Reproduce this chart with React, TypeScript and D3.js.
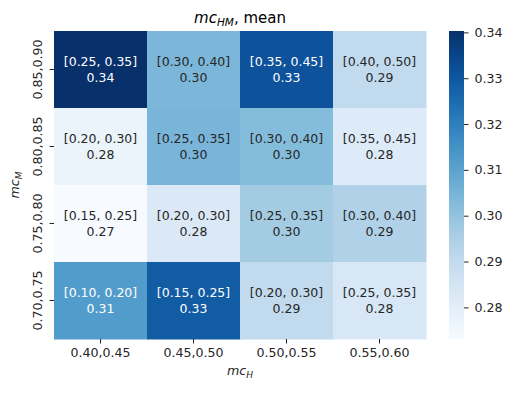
import React, { useEffect, useRef } from "react";
import * as d3 from "d3";

// rows top -> bottom (mc_M), columns left -> right (mc_H)
const rowLabels = ["0.85,0.90", "0.80,0.85", "0.75,0.80", "0.70,0.75"];
const colLabels = ["0.40,0.45", "0.45,0.50", "0.50,0.55", "0.55,0.60"];

// interval shown in each cell
const intervals = [
  ["[0.25, 0.35]", "[0.30, 0.40]", "[0.35, 0.45]", "[0.40, 0.50]"],
  ["[0.20, 0.30]", "[0.25, 0.35]", "[0.30, 0.40]", "[0.35, 0.45]"],
  ["[0.15, 0.25]", "[0.20, 0.30]", "[0.25, 0.35]", "[0.30, 0.40]"],
  ["[0.10, 0.20]", "[0.15, 0.25]", "[0.20, 0.30]", "[0.25, 0.35]"],
];

// mean mc_HM per cell
const means = [
  [0.3403, 0.304, 0.3315, 0.2905],
  [0.277, 0.3045, 0.3025, 0.282],
  [0.2731, 0.2825, 0.297, 0.2945],
  [0.312, 0.329, 0.2905, 0.2835],
];

const cbarTicks = [0.28, 0.29, 0.3, 0.31, 0.32, 0.33, 0.34];

const W = 514;
const H = 393;
const FONT = "DejaVu Sans, sans-serif";

const luminance = (c: string) => {
  const rgb = d3.rgb(c);
  const lin = (v: number) => {
    const s = v / 255;
    return s <= 0.03928 ? s / 12.92 : Math.pow((s + 0.055) / 1.055, 2.4);
  };
  return 0.2126 * lin(rgb.r) + 0.7152 * lin(rgb.g) + 0.0722 * lin(rgb.b);
};

const App = () => {
  const svgRef = useRef<SVGSVGElement>(null);

  useEffect(() => {
    if (!svgRef.current) return;
    const svg = d3.select(svgRef.current);
    svg.selectAll("*").remove();

    const left = 54, right = 426, top = 31, bottom = 339;
    const flat = means.flat();
    const vmin = d3.min(flat) as number;
    const vmax = d3.max(flat) as number;
    const color = d3.scaleSequential(d3.interpolateBlues).domain([vmin, vmax]);

    const x = d3.scaleBand<string>().domain(colLabels).range([left, right]);
    const y = d3.scaleBand<string>().domain(rowLabels).range([top, bottom]);

    // ── Cells ──────────────────────────────────────────
    const g = svg.append("g");
    rowLabels.forEach((r, i) => {
      colLabels.forEach((c, j) => {
        const v = means[i][j];
        const fill = color(v);
        g.append("rect")
          .attr("x", x(c)!).attr("y", y(r)!)
          .attr("width", x.bandwidth() + 0.5).attr("height", y.bandwidth() + 0.5)
          .attr("fill", fill);
        const tc = luminance(fill) > 0.408 ? "#262626" : "#ffffff";
        const cx = x(c)! + x.bandwidth() / 2;
        const cy = y(r)! + y.bandwidth() / 2;
        const t = g.append("text")
          .attr("text-anchor", "middle")
          .attr("font-family", FONT).attr("font-size", "12.5px")
          .attr("fill", tc);
        t.append("tspan").attr("x", cx).attr("y", cy - 4).text(intervals[i][j]);
        t.append("tspan").attr("x", cx).attr("y", cy + 12.4).text(v.toFixed(2));
      });
    });

    // ── Axes ───────────────────────────────────────────
    const xAx = svg.append("g").attr("transform", `translate(0,${bottom})`)
      .call(d3.axisBottom(x).tickSize(4.5).tickPadding(5));
    xAx.select(".domain").remove();
    xAx.selectAll(".tick line").attr("stroke", "#262626");
    xAx.selectAll(".tick text")
      .attr("font-family", FONT).attr("font-size", "12.6px").attr("fill", "#262626")
      .attr("dy", "0.71em");

    const yAx = svg.append("g").attr("transform", `translate(${left},0)`)
      .call(d3.axisLeft(y).tickSize(4.5).tickPadding(5));
    yAx.select(".domain").remove();
    yAx.selectAll(".tick line").attr("stroke", "#262626");
    yAx.selectAll(".tick text").remove();
    rowLabels.forEach((r) => {
      svg.append("text")
        .attr("transform", `translate(42,${y(r)! + y.bandwidth() / 2}) rotate(-90)`)
        .attr("text-anchor", "middle")
        .attr("font-family", FONT).attr("font-size", "12.6px").attr("fill", "#262626")
        .text(r);
    });

    // ── Axis labels & title ────────────────────────────
    const xl = svg.append("text")
      .attr("x", (left + right) / 2).attr("y", 375)
      .attr("text-anchor", "middle")
      .attr("font-family", FONT).attr("font-size", "12.6px").attr("fill", "#262626");
    xl.append("tspan").attr("font-style", "italic").text("mc");
    xl.append("tspan").attr("font-style", "italic").attr("font-size", "9px").attr("dy", 2.5).text("H");

    const yl = svg.append("text")
      .attr("transform", `translate(19,${(top + bottom) / 2}) rotate(-90)`)
      .attr("text-anchor", "middle")
      .attr("font-family", FONT).attr("font-size", "12.6px").attr("fill", "#262626");
    yl.append("tspan").attr("font-style", "italic").text("mc");
    yl.append("tspan").attr("font-style", "italic").attr("font-size", "9px").attr("dy", 2.5).text("M");

    const title = svg.append("text")
      .attr("x", (left + right) / 2).attr("y", 23)
      .attr("text-anchor", "middle")
      .attr("font-family", FONT).attr("font-size", "15px").attr("fill", "#000");
    title.append("tspan").attr("font-style", "italic").text("mc");
    title.append("tspan").attr("font-style", "italic").attr("font-size", "10.5px").attr("dy", 3).text("HM");
    title.append("tspan").attr("dy", -3).text(", mean");

    // ── Colorbar ───────────────────────────────────────
    const cbX = 449, cbW = 15;
    const defs = svg.append("defs");
    const grad = defs.append("linearGradient").attr("id", "cbar")
      .attr("x1", 0).attr("y1", 1).attr("x2", 0).attr("y2", 0);
    d3.range(0, 1.0001, 0.05).forEach((t) => {
      grad.append("stop").attr("offset", t).attr("stop-color", d3.interpolateBlues(t));
    });
    svg.append("rect")
      .attr("x", cbX).attr("y", top).attr("width", cbW).attr("height", bottom - top)
      .attr("fill", "url(#cbar)");
    const cy = d3.scaleLinear().domain([vmin, vmax]).range([bottom, top]);
    const cAx = svg.append("g").attr("transform", `translate(${cbX + cbW},0)`)
      .call(d3.axisRight(cy).tickValues(cbarTicks).tickFormat(d3.format(".2f")).tickSize(4.5).tickPadding(6));
    cAx.select(".domain").remove();
    cAx.selectAll(".tick line").attr("stroke", "#262626");
    cAx.selectAll(".tick text")
      .attr("font-family", FONT).attr("font-size", "12.6px").attr("fill", "#262626");
  }, []);

  return <svg ref={svgRef} width={W} height={H} style={{ position: "absolute", left: 0, top: 0, background: "#fff" }} />;
};

export default App;
